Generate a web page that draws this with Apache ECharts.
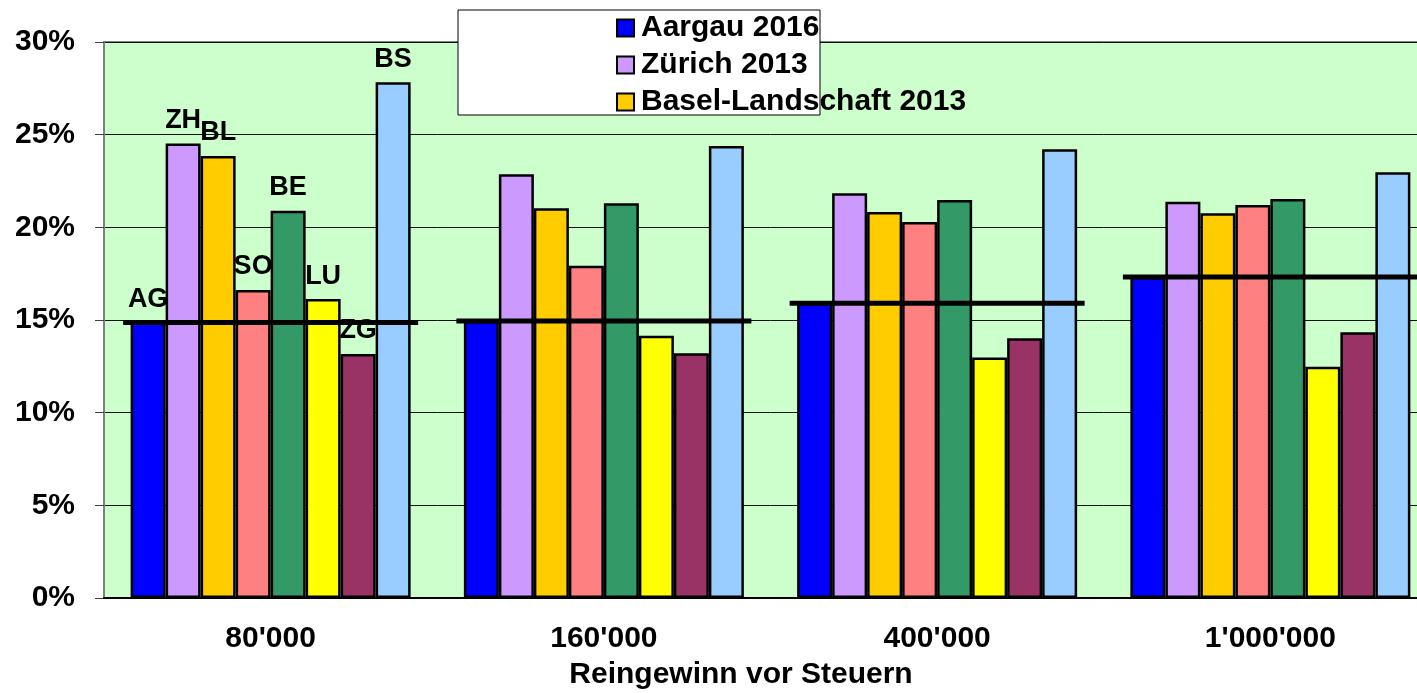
<!DOCTYPE html>
<html>
<head>
<meta charset="utf-8">
<script src="https://cdn.jsdelivr.net/npm/echarts@6/dist/echarts.min.js"></script>
<style>
  html, body { margin: 0; padding: 0; background: #fff; overflow: hidden; }
  /* the plot runs past the right edge of the window, as in the original */
  #chart { width: 1437px; height: 693px; }
</style>
</head>
<body>
<div id="chart"></div>
<script>
// Reingewinn vor Steuern (Kategorien)
const categories = ["80'000", "160'000", "400'000", "1'000'000"]

// Steuerbelastung in %
const ag = [14.87, 14.95, 15.90, 17.32]
const zh = [24.53, 22.86, 21.84, 21.38]
const bl = [23.85, 21.03, 20.83, 20.76]
const so = [16.62, 17.93, 20.29, 21.21]
const be = [20.90, 21.30, 21.48, 21.53]
const lu = [16.13, 14.15, 12.97, 12.48]
const zg = [13.17, 13.20, 14.01, 14.34]
const bs = [27.83, 24.39, 24.21, 22.97]

const yTicks = [0, 5, 10, 15, 20, 25, 30]

const cantons = [
  { name: 'Aargau 2016', short: 'AG', data: ag, color: '#0000ff' },
  { name: 'Zürich 2013', short: 'ZH', data: zh, color: '#cc99ff' },
  { name: 'Basel-Landschaft 2013', short: 'BL', data: bl, color: '#ffcc00' },
  { name: 'Solothurn', short: 'SO', data: so, color: '#ff8080' },
  { name: 'Bern', short: 'BE', data: be, color: '#339966' },
  { name: 'Luzern', short: 'LU', data: lu, color: '#ffff00' },
  { name: 'Zug', short: 'ZG', data: zg, color: '#993366' },
  { name: 'Basel-Stadt', short: 'BS', data: bs, color: '#99ccff' }
]

const FONT = "'Liberation Sans', Arial, sans-serif"

const chart = echarts.init(document.getElementById('chart'))

const barSeries = cantons.map(c => ({
  name: c.name,
  type: 'bar',
  data: c.data,
  barWidth: 35,
  barGap: '0%',
  itemStyle: { color: c.color, borderColor: '#000', borderWidth: 2.5 },
  label: {
    show: true,
    position: 'top',
    distance: 8,
    color: '#000',
    fontFamily: FONT,
    fontWeight: 'bold',
    fontSize: 27,
    lineHeight: 30,
    // Kürzel nur über der ersten Gruppe
    formatter: p => p.dataIndex === 0 ? c.short : ''
  },
  emphasis: { disabled: true }
}))

chart.setOption({
  animation: false,
  backgroundColor: '#fff',
  title: {
    text: 'Reingewinn vor Steuern',
    left: 741,
    top: 660,
    textAlign: 'center',
    padding: 0,
    textStyle: { fontFamily: FONT, fontWeight: 'bold', fontSize: 30, lineHeight: 30, color: '#000' }
  },
  graphic: [{
    type: 'rect',
    shape: { x: 458, y: 10, width: 362, height: 105 },
    style: { fill: '#fff', stroke: '#000', lineWidth: 1 },
    z: 50
  }],
  legend: {
    data: cantons.slice(0, 3).map(c => c.name),
    orient: 'vertical',
    left: 616,
    top: 13,
    padding: 0,
    itemGap: 7,
    itemWidth: 17,
    itemHeight: 17,
    icon: 'rect',
    selectedMode: false,
    z: 60,
    textStyle: { fontFamily: FONT, fontWeight: 'bold', fontSize: 30, lineHeight: 30, color: '#000', padding: [0, 0, 0, 2] }
  },
  grid: {
    left: 104, top: 42, right: 0, height: 556,
    show: true, backgroundColor: '#ccffcc', borderColor: '#808080', borderWidth: 2
  },
  xAxis: {
    type: 'category',
    data: categories,
    axisLine: { lineStyle: { color: '#000', width: 2 } },
    axisTick: { length: 10, lineStyle: { color: '#000', width: 1 } },
    axisLabel: { margin: 26, color: '#000', fontFamily: FONT, fontWeight: 'bold', fontSize: 30, lineHeight: 30 },
    z: 10
  },
  yAxis: {
    type: 'value',
    min: yTicks[0],
    max: yTicks[yTicks.length - 1],
    interval: 5,
    axisLine: { show: true, lineStyle: { color: '#808080', width: 2 } },
    axisTick: { show: true, length: 9, lineStyle: { color: '#404040' } },
    axisLabel: { margin: 29, color: '#000', fontFamily: FONT, fontWeight: 'bold', fontSize: 30, formatter: '{value}%' },
    splitLine: { lineStyle: { color: '#111', width: 1 } }
  },
  series: [
    ...barSeries,
    {
      name: 'Aargau 2016 Linie',
      type: 'scatter',
      data: ag,
      symbol: 'rect',
      symbolSize: [295, 5],
      itemStyle: { color: '#000', opacity: 1 },
      z: 20,
      silent: true
    }
  ]
})
</script>
</body>
</html>
